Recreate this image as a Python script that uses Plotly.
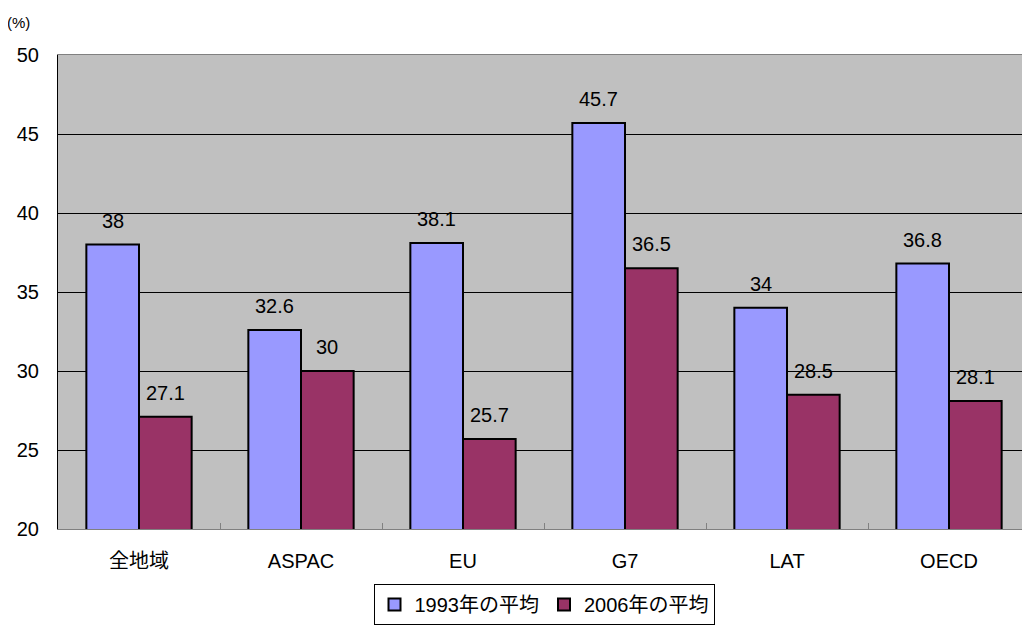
import plotly.graph_objects as go

categories = ["全地域", "ASPAC", "EU", "G7", "LAT", "OECD"]
series_1993 = [38, 32.6, 38.1, 45.7, 34, 36.8]
series_2006 = [27.1, 30, 25.7, 36.5, 28.5, 28.1]
series_names = ["1993年の平均", "2006年の平均"]
y_ticks = [20, 25, 30, 35, 40, 45, 50]

FONT = "Liberation Sans, Noto Sans CJK JP, sans-serif"
x = list(range(len(categories)))
bargap = 0.35
half = (1 - bargap) / 4

fig = go.Figure()
fig.add_bar(x=x, y=series_1993, name=series_names[0], marker=dict(color="#9999FF", line=dict(color="black", width=2)))
fig.add_bar(x=x, y=series_2006, name=series_names[1], marker=dict(color="#993366", line=dict(color="black", width=2)))

for i in x:
    fig.add_annotation(x=i - half, y=series_1993[i], text=str(series_1993[i]), showarrow=False,
                       yanchor="middle", yshift=24, font=dict(size=20, color="black", family=FONT))
    fig.add_annotation(x=i + half, y=series_2006[i], text=str(series_2006[i]), showarrow=False,
                       yanchor="middle", yshift=24, font=dict(size=20, color="black", family=FONT))

fig.add_annotation(xref="paper", yref="paper", x=-0.041, y=1.0696, xanchor="center", yanchor="middle",
                   text="(%)", showarrow=False, font=dict(size=15, color="black", family=FONT))

fig.update_layout(
    width=1022, height=618,
    margin=dict(l=50, r=0, t=47, b=97),
    paper_bgcolor="white", plot_bgcolor="#C0C0C0",
    barmode="group", bargap=bargap, bargroupgap=0,
    font=dict(family=FONT, size=20, color="black"),
    showlegend=True,
    legend=dict(orientation="h", x=0.5, xanchor="center", y=-0.2025, yanchor="bottom",
                bordercolor="black", borderwidth=1, bgcolor="white",
                font=dict(size=20, family=FONT), itemwidth=30, tracegroupgap=0),
    xaxis=dict(tickmode="array", tickvals=x, ticktext=categories, range=[-0.5, 5.5],
               showgrid=False, zeroline=False, showline=True, linecolor="#808080", linewidth=1, mirror=True,
               ticks="", tickfont=dict(size=20), ticklabelstandoff=14,
               minor=dict(tickvals=[i + 0.5 for i in x[:-1]], ticks="inside", ticklen=6, tickcolor="#808080")),
    yaxis=dict(range=[20, 50], tickmode="array", tickvals=y_ticks, showgrid=True, gridcolor="black", gridwidth=1,
               zeroline=False, showline=True, linecolor="black", linewidth=1,
               ticks="inside", ticklen=5, tickcolor="black", tickfont=dict(size=20), ticklabelstandoff=14),
)

fig.write_html("out.html")
